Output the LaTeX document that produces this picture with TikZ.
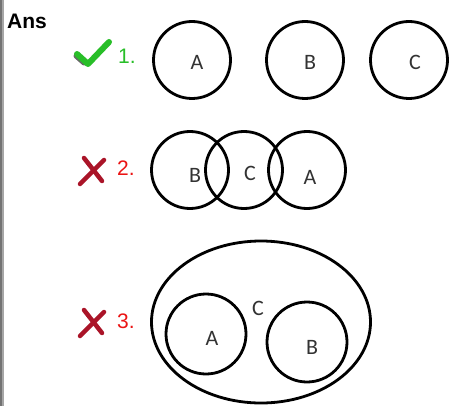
\documentclass[tikz,border=0pt]{standalone}
\usepackage{fontspec}
\setmainfont{Liberation Sans}
\newfontfamily\setfont{Carlito}
\usetikzlibrary{shapes.geometric}

\definecolor{okgreen}{RGB}{40,190,40}
\definecolor{badred}{RGB}{235,20,20}
\definecolor{crossred}{RGB}{170,20,40}

\tikzset{
  set/.style={draw, circle, line width=2.8pt, minimum size=77pt, inner sep=0pt},
  lbl/.style={font=\setfont\fontsize{22}{24}\selectfont, text=black!80, inner sep=0pt},
  num/.style={font=\fontsize{21}{23}\selectfont, inner sep=0pt}
}

\begin{document}
\begin{tikzpicture}[x=1pt, y=-1pt]
  \useasboundingbox (0,0) rectangle (449,406);
  \fill[white] (0,0) rectangle (449,406);
  \fill[black!55] (0,0) rectangle (2,406);
  \fill[black!35] (2,0) rectangle (4,406);

  \node[anchor=west, inner sep=0pt, font=\bfseries\fontsize{21}{23}\selectfont] (ans) at (7,21) {Ans};

  % 1. three separate sets
  \draw[black!60, line width=5pt, line cap=round] (76,56) -- (84,63);
  \draw[okgreen, line width=6pt, line cap=round, line join=round] (77,54) -- (88,64) -- (109,42);
  \node[num, text=okgreen] (n1) at (127,56) {1.};
  \node[set] (a1) at (192,60) {};
  \node[set] (b1) at (305,60) {};
  \node[set] (c1) at (409,60) {};
  \node[lbl] at (197,62) {A};
  \node[lbl] at (310,62) {B};
  \node[lbl] at (415,62) {C};

  % 2. chain of overlapping sets
  \draw[crossred, line width=4.5pt, line cap=round] (84,158) -- (102,181);
  \draw[crossred, line width=4.5pt, line cap=round] (104,160) -- (80,184);
  \node[num, text=badred] (n2) at (126,168) {2.};
  \node[set] (b2) at (190,170) {};
  \node[set] (c2) at (244,170) {};
  \node[set] (a2) at (307,170) {};
  \node[lbl] at (195,175) {B};
  \node[lbl] at (250,173) {C};
  \node[lbl] at (310,177) {A};

  % 3. A and B inside C
  \draw[crossred, line width=4.5pt, line cap=round] (84,310) -- (102,333);
  \draw[crossred, line width=4.5pt, line cap=round] (104,312) -- (80,336);
  \node[num, text=badred] (n3) at (126,321) {3.};
  \node[draw, ellipse, line width=2.8pt, minimum width=219pt, minimum height=162pt, inner sep=0pt] (c3) at (261,322) {};
  \node[set, minimum size=80pt] (a3) at (206,334) {};
  \node[set, minimum size=80pt] (b3) at (307,342) {};
  \node[lbl] at (258,308) {C};
  \node[lbl] at (212,338) {A};
  \node[lbl] at (312,347) {B};
\end{tikzpicture}
\end{document}
